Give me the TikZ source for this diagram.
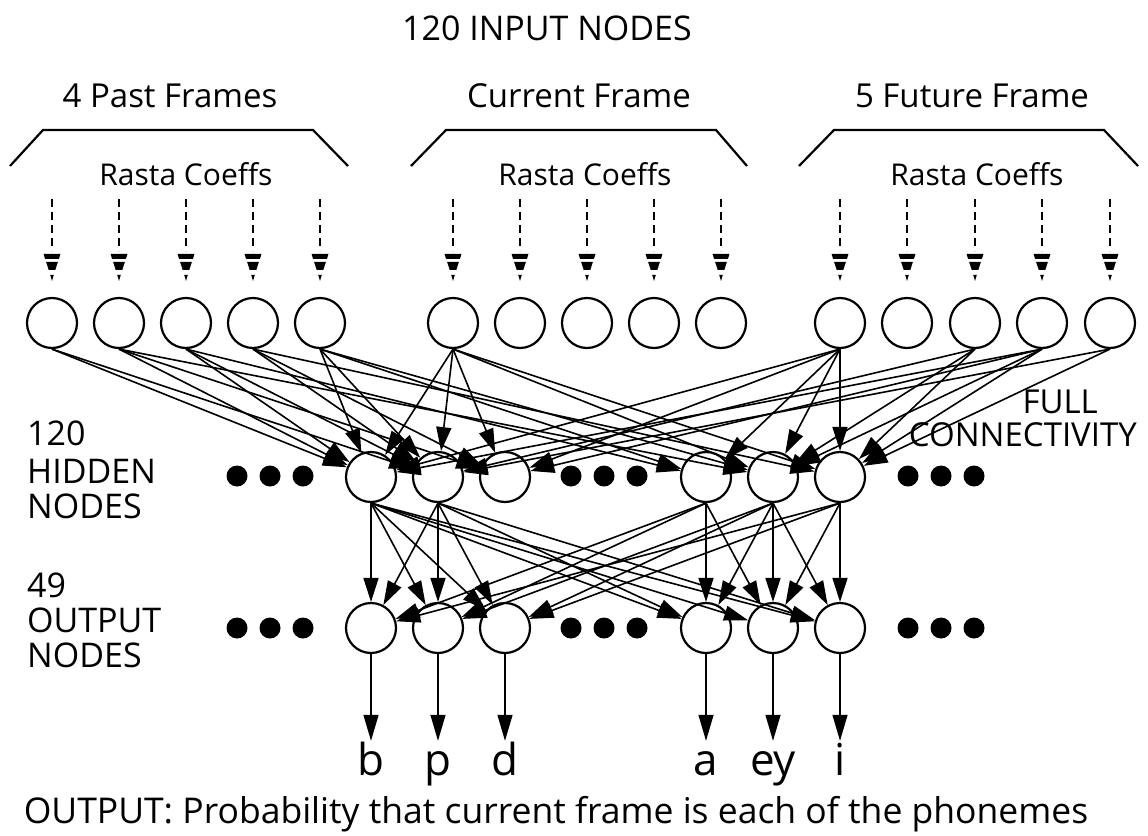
\documentclass[tikz,border=0pt]{standalone}
\usepackage{fontspec}
\setmainfont{Open Sans}
\usetikzlibrary{arrows.meta}
\begin{document}
\begin{tikzpicture}[x=1pt,y=-1pt,
  unit/.style={circle, draw, line width=2.2pt, fill=white, minimum size=50pt, inner sep=0pt},
  bigdot/.style={circle, fill, minimum size=21pt, inner sep=0pt},
  conn/.style={line width=1.6pt, -{Triangle[length=24pt,width=15pt]}},
  outarrow/.style={line width=1.4pt, -{Triangle[length=26pt,width=15pt]}},
  bracketline/.style={line width=2.2pt},
  rastadash/.style={line width=1.8pt, dash pattern=on 8pt off 5pt},
  titletxt/.style={font=\fontsize{34}{40}\selectfont, anchor=base, inner sep=0pt},
  frametxt/.style={font=\fontsize{33}{40}\selectfont, anchor=base, inner sep=0pt},
  rastatxt/.style={font=\fontsize{30}{36}\selectfont, anchor=base, inner sep=0pt},
  sidetxt/.style={font=\fontsize{34}{40}\selectfont, anchor=base west, inner sep=0pt},
  phon/.style={font=\fontsize{44}{50}\selectfont, anchor=base, inner sep=0pt, text height=34pt, text depth=11pt},
  bottomtxt/.style={font=\fontsize{35.5}{42}\selectfont, anchor=base, inner sep=0pt}
]
\useasboundingbox (0,0) rectangle (1148,835);

% titles
\node[titletxt] (title) at (547,40) {120 INPUT NODES};
\node[frametxt] (fpast) at (170,107) {4 Past Frames};
\node[frametxt] (fcur) at (579,107) {Current Frame};
\node[frametxt] (ffut) at (972,107) {5 Future Frame};

% brackets
\draw[bracketline] (10,166) -- (43,130) -- (313,130) -- (348,166);
\draw[bracketline] (411,166) -- (446,130) -- (716,130) -- (747,166);
\draw[bracketline] (799,166) -- (834,130) -- (1104,130) -- (1138,166);

\node[rastatxt] (r1) at (186,185) {Rasta Coeffs};
\node[rastatxt] (r2) at (585,185) {Rasta Coeffs};
\node[rastatxt] (r3) at (977,185) {Rasta Coeffs};

% input nodes
\node[unit] (p1) at (52,323) {};
\node[unit] (p2) at (119,323) {};
\node[unit] (p3) at (186,323) {};
\node[unit] (p4) at (253,323) {};
\node[unit] (p5) at (320,323) {};
\node[unit] (c1) at (453,323) {};
\node[unit] (c2) at (520,323) {};
\node[unit] (c3) at (587,323) {};
\node[unit] (c4) at (654,323) {};
\node[unit] (c5) at (721,323) {};
\node[unit] (f1) at (840,323) {};
\node[unit] (f2) at (907,323) {};
\node[unit] (f3) at (975,323) {};
\node[unit] (f4) at (1042,323) {};
\node[unit] (f5) at (1110,323) {};

% dashed input arrows
\foreach \n in {p1,p2,p3,p4,p5,c1,c2,c3,c4,c5,f1,f2,f3,f4,f5}{
  \draw[rastadash] ([yshift=98pt]\n.north) -- ([yshift=46pt]\n.north);
  \fill ([shift={(-8.5pt,43pt)}]\n.north) -- ([shift={(8.5pt,43pt)}]\n.north)
        -- ([shift={(6.9pt,38pt)}]\n.north) -- ([shift={(-6.9pt,38pt)}]\n.north) -- cycle;
  \fill ([shift={(-5.9pt,35pt)}]\n.north) -- ([shift={(5.9pt,35pt)}]\n.north)
        -- ([shift={(3.3pt,27pt)}]\n.north) -- ([shift={(-3.3pt,27pt)}]\n.north) -- cycle;
  \fill ([shift={(-1.8pt,22pt)}]\n.north) -- ([shift={(1.8pt,22pt)}]\n.north)
        -- ([shift={(0pt,16pt)}]\n.north) -- cycle;
}

% hidden nodes
\node[unit] (h1) at (371,477) {};
\node[unit] (h2) at (438,477) {};
\node[unit] (h3) at (505,477) {};
\node[unit] (h4) at (706,477) {};
\node[unit] (h5) at (773,477) {};
\node[unit] (h6) at (840,477) {};

% output nodes
\node[unit] (o1) at (371,628) {};
\node[unit] (o2) at (438,628) {};
\node[unit] (o3) at (505,628) {};
\node[unit] (o4) at (706,628) {};
\node[unit] (o5) at (773,628) {};
\node[unit] (o6) at (840,628) {};

% ellipsis dots
\node[bigdot] (hd1) at (237,476) {};
\node[bigdot] (hd2) at (270,476) {};
\node[bigdot] (hd3) at (303,476) {};
\node[bigdot] (hd4) at (571,476) {};
\node[bigdot] (hd5) at (604,476) {};
\node[bigdot] (hd6) at (637,476) {};
\node[bigdot] (hd7) at (908,476) {};
\node[bigdot] (hd8) at (941,476) {};
\node[bigdot] (hd9) at (974,476) {};
\node[bigdot] (od1) at (237,628) {};
\node[bigdot] (od2) at (270,628) {};
\node[bigdot] (od3) at (303,628) {};
\node[bigdot] (od4) at (571,628) {};
\node[bigdot] (od5) at (604,628) {};
\node[bigdot] (od6) at (637,628) {};
\node[bigdot] (od7) at (908,628) {};
\node[bigdot] (od8) at (941,628) {};
\node[bigdot] (od9) at (974,628) {};

% side labels
\node[sidetxt] (l1) at (27,445) {120};
\node[sidetxt] (l2) at (27,483) {HIDDEN};
\node[sidetxt] (l3) at (27,518) {NODES};
\node[sidetxt] (l4) at (27,597) {49};
\node[sidetxt] (l5) at (27,632) {OUTPUT};
\node[sidetxt] (l6) at (27,667) {NODES};

\node[sidetxt, font=\fontsize{33}{40}\selectfont, anchor=base east] (full) at (1098,413) {FULL};
\node[sidetxt, font=\fontsize{33}{40}\selectfont, anchor=base east] (conny) at (1137,446) {CONNECTIVITY};

% input -> hidden connections
\foreach \a/\b in {p1/h1, p1/h2, p2/h1, p2/h3, p2/h5, p3/h1, p3/h2, p3/h4,
                   p4/h2, p4/h3, p4/h6, p5/h1, p5/h2, p5/h4, p5/h5,
                   c1/h1, c1/h2, c1/h3, c1/h5, c1/h6,
                   f1/h1, f1/h3, f1/h4, f1/h5, f1/h6,
                   f3/h2, f3/h5, f3/h6, f4/h1, f4/h3, f4/h5, f4/h6,
                   f5/h2, f5/h6}
  \draw[conn] (\a.south) -- (\b);

% hidden -> output connections
\foreach \a/\b in {h1/o1, h1/o2, h1/o3, h1/o4, h1/o5, h1/o6,
                   h2/o1, h2/o2, h2/o3, h2/o4, h2/o6,
                   h4/o1, h4/o2, h4/o4, h4/o5,
                   h5/o2, h5/o3, h5/o4, h5/o5, h5/o6,
                   h6/o1, h6/o3, h6/o5, h6/o6}
  \draw[conn] (\a.south) -- (\b);

% phoneme labels
\node[phon] (lb) at (371,775) {b};
\node[phon] (lp) at (438,775) {p};
\node[phon] (ld) at (505,775) {d};
\node[phon] (la) at (706,775) {a};
\node[phon] (ley) at (773,775) {ey};
\node[phon] (li) at (840,775) {i};

\foreach \a/\b in {o1/lb, o2/lp, o3/ld, o4/la, o5/ley, o6/li}
  \draw[outarrow] (\a.south) -- (\b.north);

\node[bottomtxt] (out) at (556,823) {OUTPUT: Probability that current frame is each of the phonemes};
\end{tikzpicture}
\end{document}
